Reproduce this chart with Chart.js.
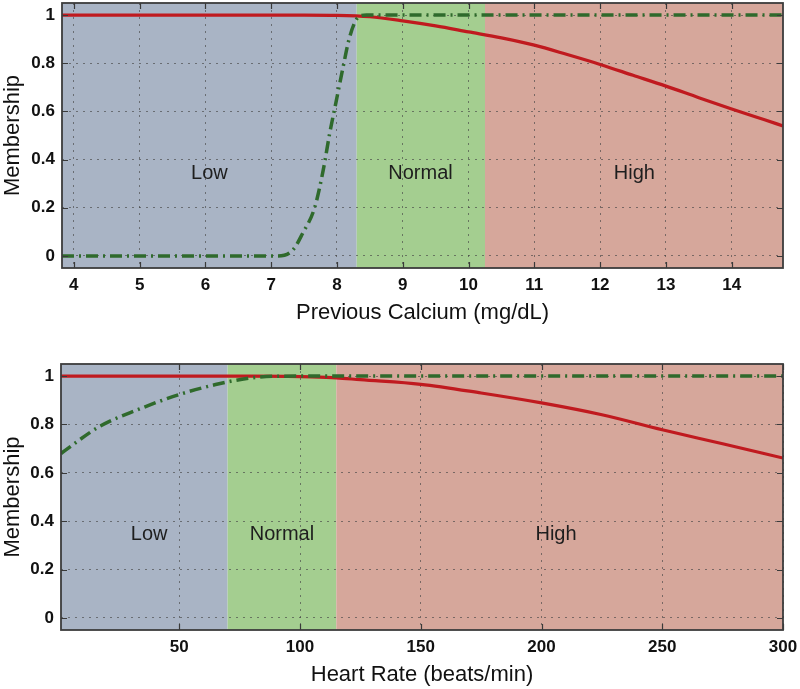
<!DOCTYPE html>
<html>
<head>
<meta charset="utf-8">
<script src="https://cdn.jsdelivr.net/npm/chart.js@4/dist/chart.umd.min.js"></script>
<style>
  html, body { margin: 0; padding: 0; background: #ffffff; }
  #wrap { position: relative; width: 800px; height: 689px; }
  #c1 { position: absolute; left: 0; top: 0; }
  #c2 { position: absolute; left: 0; top: 340px; }
</style>
</head>
<body>
<div id="wrap">
  <canvas id="c1" width="800" height="340"></canvas>
  <canvas id="c2" width="800" height="349"></canvas>
</div>
<script>
// ---------- Data: top panel (Previous Calcium) ----------
const caRange = [3.82, 14.78];
const caTicks = [4, 5, 6, 7, 8, 9, 10, 11, 12, 13, 14];
const caRegions = [3.82, 8.3, 10.25, 14.78];          // Low | Normal | High boundaries
const caLabelX = [6.06, 9.27, 12.52];

const caRedX = [3.82, 7.5, 8.0, 8.5, 9.0, 9.5, 10.0, 10.5, 11.0, 11.5, 12.0, 12.5, 13.0, 13.5, 14.0, 14.5, 14.78];
const caRedY = [1.0, 1.0, 0.999, 0.993, 0.976, 0.955, 0.93, 0.905, 0.875, 0.836, 0.795, 0.75, 0.705, 0.657, 0.61, 0.565, 0.54];

const caGreenX = [3.82, 7.1, 7.33, 7.48, 7.66, 7.79, 7.89, 7.99, 8.09, 8.19, 8.32, 8.45, 14.78];
const caGreenY = [0.0, 0.0, 0.025, 0.095, 0.2, 0.355, 0.51, 0.645, 0.78, 0.906, 0.99, 1.0, 1.0];

// ---------- Data: bottom panel (Heart Rate) ----------
const hrRange = [1, 300];
const hrTicks = [50, 100, 150, 200, 250, 300];
const hrRegions = [1, 70, 115, 300];
const hrLabelX = [37.5, 92.5, 206];

const hrRedX = [1, 80, 95, 105, 115, 125, 150, 175, 200, 225, 250, 275, 300];
const hrRedY = [1.0, 1.0, 0.999, 0.997, 0.993, 0.985, 0.966, 0.93, 0.889, 0.84, 0.778, 0.72, 0.661];

const hrGreenX = [1, 17, 33, 50, 65, 76, 86, 100, 300];
const hrGreenY = [0.68, 0.792, 0.862, 0.924, 0.965, 0.987, 0.998, 1.0, 1.0];

// ---------- Shared ----------
const yRange = [-0.05, 1.05];
const yTicks = [0, 0.2, 0.4, 0.6, 0.8, 1];
const yTickLabels = ['0', '0.2', '0.4', '0.6', '0.8', '1'];
const regionNames = ['Low', 'Normal', 'High'];
const regionLabelY = 0.343;

const regionColors = ['#a9b4c5', '#a4ce90', '#d6a79b'];
const FONT = '"Liberation Sans", Arial, Helvetica, sans-serif';

function pts(xs, ys) { return xs.map((x, i) => ({ x: x, y: ys[i] })); }

const panelPlugin = {
  id: 'panel',
  beforeDraw(chart, args, opts) {
    const ctx = chart.ctx, xs = chart.scales.x, ys = chart.scales.y, a = chart.chartArea;
    ctx.save();
    for (let i = 0; i < opts.regions.length - 1; i++) {
      const x0 = xs.getPixelForValue(opts.regions[i]);
      const x1 = xs.getPixelForValue(opts.regions[i + 1]);
      ctx.fillStyle = regionColors[i];
      ctx.fillRect(x0, a.top, x1 - x0, a.bottom - a.top);
    }
    ctx.fillStyle = '#1e1e1e';
    ctx.font = '20px ' + FONT;
    ctx.textAlign = 'center';
    ctx.textBaseline = 'middle';
    for (let i = 0; i < regionNames.length; i++) {
      ctx.fillText(regionNames[i], xs.getPixelForValue(opts.labelX[i]), ys.getPixelForValue(regionLabelY));
    }
    ctx.restore();
  },
  afterDraw(chart) {
    const ctx = chart.ctx, xs = chart.scales.x, ys = chart.scales.y, a = chart.chartArea;
    ctx.save();
    ctx.strokeStyle = '#3a3a3a';
    ctx.lineWidth = 1.2;
    ctx.beginPath();
    xs.ticks.forEach(t => {
      const p = Math.round(xs.getPixelForValue(t.value)) + 0.5;
      ctx.moveTo(p, a.bottom); ctx.lineTo(p, a.bottom - 6);
      ctx.moveTo(p, a.top); ctx.lineTo(p, a.top + 6);
    });
    ys.ticks.forEach(t => {
      const p = Math.round(ys.getPixelForValue(t.value)) + 0.5;
      ctx.moveTo(a.left, p); ctx.lineTo(a.left + 6, p);
      ctx.moveTo(a.right, p); ctx.lineTo(a.right - 6, p);
    });
    ctx.stroke();
    ctx.lineWidth = 1.8;
    ctx.strokeStyle = '#3c3c3c';
    ctx.strokeRect(a.left, a.top, a.right - a.left, a.bottom - a.top);
    ctx.restore();
  }
};

function makeChart(canvasId, cfg) {
  return new Chart(document.getElementById(canvasId), {
    type: 'line',
    data: {
      datasets: [
        {
          label: 'green',
          data: pts(cfg.greenX, cfg.greenY),
          borderColor: '#2f6a2c',
          borderWidth: 3.5,
          borderDash: [12, 5, 2, 5],
          pointRadius: 0,
          cubicInterpolationMode: 'monotone',
          fill: false,
          order: 0
        },
        {
          label: 'red',
          data: pts(cfg.redX, cfg.redY),
          borderColor: '#c01a1f',
          borderWidth: 3.2,
          pointRadius: 0,
          cubicInterpolationMode: 'monotone',
          fill: false,
          order: 1
        }
      ]
    },
    options: {
      responsive: false,
      animation: false,
      events: [],
      layout: { padding: { left: 0, right: cfg.padRight, top: cfg.padTop, bottom: 0 } },
      plugins: {
        legend: { display: false },
        tooltip: { enabled: false },
        panel: { regions: cfg.regions, labelX: cfg.labelX }
      },
      scales: {
        x: {
          type: 'linear',
          min: cfg.range[0], max: cfg.range[1],
          afterBuildTicks(scale) { scale.ticks = cfg.ticks.map(v => ({ value: v })); },
          afterFit(scale) { scale.height = cfg.xHeight; scale.paddingLeft = 0; scale.paddingRight = 0; },
          grid: { color: 'rgba(70,70,70,0.65)', lineWidth: 1, drawTicks: false },
          border: { display: false, dash: [2, 5] },
          ticks: { color: '#111', font: { family: FONT, size: 17, weight: 'bold' }, padding: cfg.xTickPad,
                   maxRotation: 0, autoSkip: false, callback: v => String(v) },
          title: { display: true, text: cfg.title, color: '#111', font: { family: FONT, size: 22 },
                   padding: { top: 0, bottom: cfg.titlePadBottom } }
        },
        y: {
          type: 'linear',
          min: yRange[0], max: yRange[1],
          afterBuildTicks(scale) { scale.ticks = yTicks.map(v => ({ value: v })); },
          afterFit(scale) { scale.width = cfg.yWidth; scale.paddingTop = 0; scale.paddingBottom = 0; },
          grid: { color: 'rgba(70,70,70,0.65)', lineWidth: 1, drawTicks: false },
          border: { display: false, dash: [2, 5] },
          ticks: { color: '#111', font: { family: FONT, size: 17, weight: 'bold' }, padding: 7,
                   callback: (v) => { const i = yTicks.indexOf(v); return i >= 0 ? yTickLabels[i] : ''; } },
          title: { display: true, text: 'Membership', color: '#111', font: { family: FONT, size: 22 },
                   padding: { top: 0, bottom: 0 } }
        }
      }
    },
    plugins: [panelPlugin]
  });
}

makeChart('c1', {
  range: caRange, ticks: caTicks, regions: caRegions, labelX: caLabelX,
  redX: caRedX, redY: caRedY, greenX: caGreenX, greenY: caGreenY,
  title: 'Previous Calcium (mg/dL)',
  padRight: 17, padTop: 3, yWidth: 62, xHeight: 72, xTickPad: 7, titlePadBottom: 14
});

makeChart('c2', {
  range: hrRange, ticks: hrTicks, regions: hrRegions, labelX: hrLabelX,
  redX: hrRedX, redY: hrRedY, greenX: hrGreenX, greenY: hrGreenY,
  title: 'Heart Rate (beats/min)',
  padRight: 17, padTop: 24, yWidth: 61, xHeight: 59, xTickPad: 7, titlePadBottom: 1
});
</script>
</body>
</html>
